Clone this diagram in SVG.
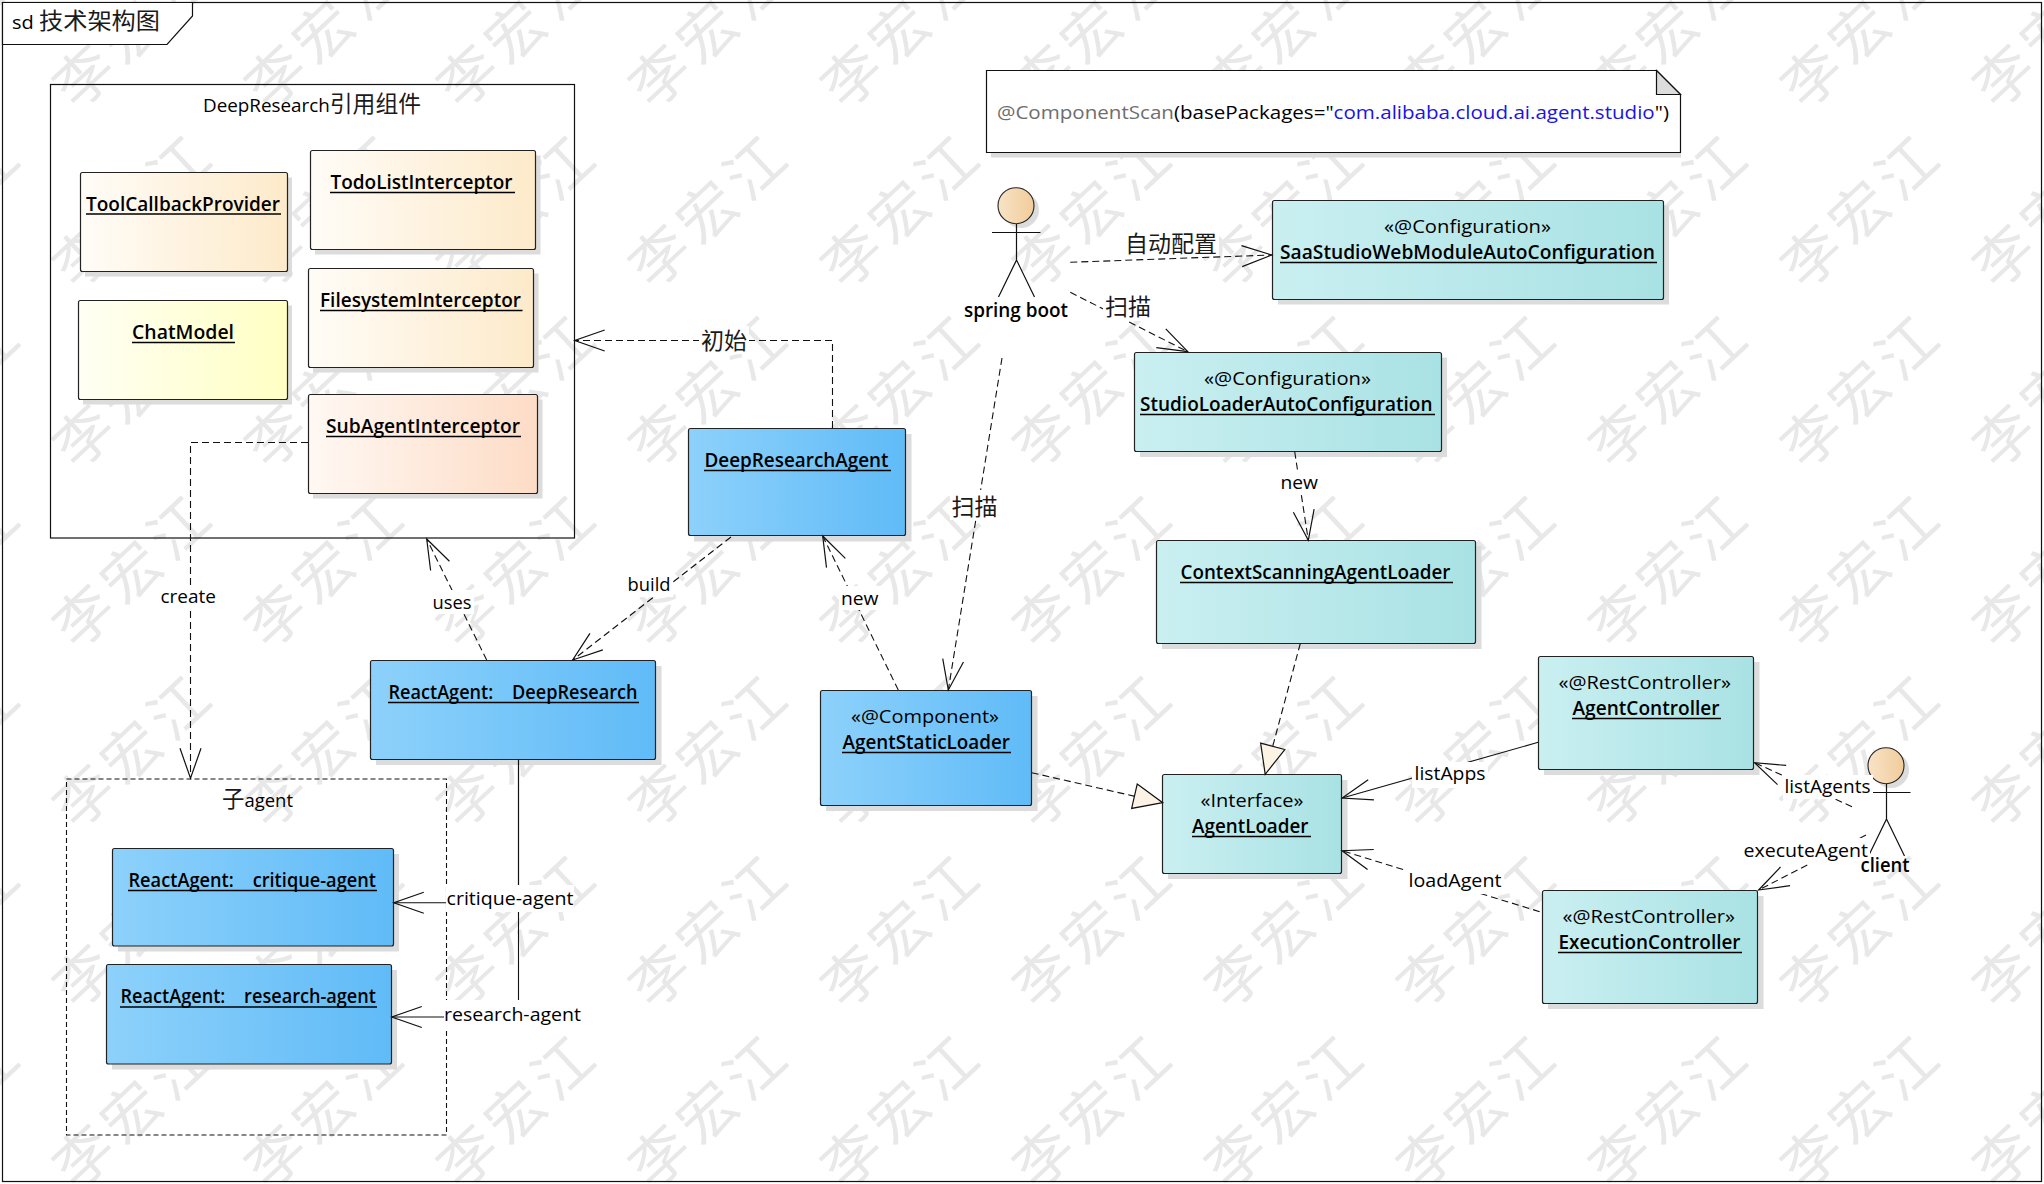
<svg xmlns="http://www.w3.org/2000/svg" width="2044" height="1184" viewBox="0 0 2044 1184">
<style>
text{font-family:"Open Sans","Noto Sans CJK SC",sans-serif;font-size:19px;fill:#000}
.nm{font-weight:600}
.cj{font-family:"Noto Sans CJK SC","Open Sans",sans-serif;font-size:23px;fill:#1a1a1a}
.r{stroke:#222;stroke-width:1.2}
.sh{fill:#dcdcdc}
.u{stroke:#000;stroke-width:1.3}
.bl{fill:url(#gBlue)}.te{fill:url(#gTeal)}.or{fill:url(#gOrange)}.ye{fill:url(#gYellow)}.pk{fill:url(#gPink)}
.c{fill:none;stroke:#111;stroke-width:1.1;marker-end:url(#open)}
.d{stroke-dasharray:7 4}
.re{marker-end:url(#tri)}
.lb{fill:#fff}
.ln{fill:none;stroke:#111;stroke-width:1.2}
.wm{font-family:"Noto Sans CJK SC",sans-serif;font-size:58px;letter-spacing:7px;fill:#e8e8e8}
</style>
<defs>
<linearGradient id="gBlue"><stop offset="0" stop-color="#8dd1fb"/><stop offset="1" stop-color="#60bbf7"/></linearGradient>
<linearGradient id="gTeal"><stop offset="0" stop-color="#caeff1"/><stop offset="1" stop-color="#a9e2e4"/></linearGradient>
<linearGradient id="gOrange"><stop offset="0" stop-color="#fffcf7"/><stop offset="1" stop-color="#fdeaca"/></linearGradient>
<linearGradient id="gYellow"><stop offset="0" stop-color="#fffff4"/><stop offset="1" stop-color="#ffffc4"/></linearGradient>
<linearGradient id="gPink"><stop offset="0" stop-color="#fff8f3"/><stop offset="1" stop-color="#fddcc6"/></linearGradient>
<linearGradient id="gHead"><stop offset="0" stop-color="#f8e3c6"/><stop offset="1" stop-color="#f1cc9b"/></linearGradient>
<marker id="open" markerUnits="userSpaceOnUse" markerWidth="64" markerHeight="44" refX="0" refY="0" orient="auto" viewBox="-32 -22 64 44"><path d="M-30,-10.5 L0,0 L-30,10.5" fill="none" stroke="#111" stroke-width="1.2"/></marker>
<marker id="tri" markerUnits="userSpaceOnUse" markerWidth="64" markerHeight="44" refX="0" refY="0" orient="auto" viewBox="-32 -22 64 44"><path d="M-29,-12.5 L0,0 L-29,12.5 Z" fill="#fdf3e5" stroke="#111" stroke-width="1.2"/></marker>
<pattern id="wmTile" patternUnits="userSpaceOnUse" x="33" y="-61" width="192" height="180"><text class="wm" x="99" y="90" text-anchor="middle" dominant-baseline="central" transform="rotate(-43 96 90)">李宏江</text></pattern>
</defs>
<rect width="2044" height="1184" fill="#fff"/>
<rect id="watermark" width="2044" height="1184" fill="url(#wmTile)"/>

<g id="frame">
<rect x="2.5" y="2.5" width="2039" height="1179" fill="none" stroke="#111" stroke-width="1.2"/>
<path d="M2.5,44.5 H167 L192.5,16 V2.5 H2.5 Z" fill="#fff" stroke="#111" stroke-width="1.2"/>
<text x="12" y="29" textLength="148" lengthAdjust="spacingAndGlyphs">sd <tspan class="cj" font-size="24">技术架构图</tspan></text>
</g>

<g id="container-deepresearch">
<rect x="50.5" y="84.5" width="524" height="453.5" fill="none" stroke="#111" stroke-width="1.2"/>
<text x="203" y="112" textLength="218" lengthAdjust="spacingAndGlyphs">DeepResearch<tspan class="cj">引用组件</tspan></text>
</g>
<g id="container-subagent">
<rect x="66.5" y="779" width="380" height="356" fill="none" stroke="#111" stroke-width="1.1" stroke-dasharray="5 3"/>
<text x="222" y="807" textLength="71" lengthAdjust="spacingAndGlyphs"><tspan class="cj" font-size="21">子</tspan>agent</text>
</g>

<g id="ToolCallbackProvider"><rect class="sh" x="85" y="177.5" width="207" height="99"/><rect class="r or" x="80.5" y="172.5" width="207" height="99" rx="2"/><text class="nm" x="86" y="211" textLength="194" lengthAdjust="spacingAndGlyphs">ToolCallbackProvider</text><line class="u" x1="86" y1="214" x2="281" y2="214"/></g>
<g id="TodoListInterceptor"><rect class="sh" x="315" y="155.5" width="225.500" height="99"/><rect class="r or" x="310.500" y="150.500" width="225" height="99" rx="2"/><text class="nm" x="330.500" y="189" textLength="182" lengthAdjust="spacingAndGlyphs">TodoListInterceptor</text><line class="u" x1="330" y1="192.500" x2="515" y2="192.500"/></g>
<g id="FilesystemInterceptor"><rect class="sh" x="313" y="273.500" width="225.500" height="99"/><rect class="r or" x="308.500" y="268.500" width="225" height="99" rx="2"/><text class="nm" x="320" y="307" textLength="201" lengthAdjust="spacingAndGlyphs">FilesystemInterceptor</text><line class="u" x1="320" y1="310.500" x2="522.500" y2="310.500"/></g>
<g id="ChatModel"><rect class="sh" x="83" y="305.500" width="209" height="99"/><rect class="r ye" x="78.500" y="300.500" width="209" height="99" rx="2"/><text class="nm" x="132" y="339" textLength="102" lengthAdjust="spacingAndGlyphs">ChatModel</text><line class="u" x1="132" y1="342.500" x2="235" y2="342.500"/></g>
<g id="SubAgentInterceptor"><rect class="sh" x="313" y="399.500" width="229.500" height="99"/><rect class="r pk" x="308.500" y="394.500" width="229" height="99" rx="2"/><text class="nm" x="326" y="433" textLength="194" lengthAdjust="spacingAndGlyphs">SubAgentInterceptor</text><line class="u" x1="326" y1="436.500" x2="521" y2="436.500"/></g>

<g id="note-componentscan"><rect class="sh" x="991" y="152" width="690" height="5.500"/><path d="M986.500,70.500 H1656.500 L1680.500,94.500 V152.500 H986.500 Z" fill="#fff" stroke="#111" stroke-width="1.2"/><path d="M1656.500,70.500 L1680.500,94.500 H1656.500 Z" fill="#dcdcdc" stroke="#111" stroke-width="1.2"/>
<text x="997" y="119" textLength="672" lengthAdjust="spacingAndGlyphs"><tspan fill="#6e6e6e">@ComponentScan</tspan>(basePackages="<tspan fill="#1a14e6">com.alibaba.cloud.ai.agent.studio</tspan>")</text></g>

<g id="actor-springboot"><ellipse class="sh" cx="1021" cy="210" rx="18" ry="18"/><ellipse cx="1016" cy="205.700" rx="18" ry="18" fill="url(#gHead)" stroke="#222" stroke-width="1.1"/><path class="ln" d="M992,232.500 H1040.500 M1016.500,224 V260 L998.500,297 M1016.500,260 L1034.500,297"/><text class="nm" x="964" y="317" textLength="104" lengthAdjust="spacingAndGlyphs">spring boot</text></g>

<g id="SaaStudioWebModuleAutoConfiguration"><rect class="sh" x="1278" y="205.500" width="391" height="99"/><rect class="r te" x="1272.500" y="200.500" width="391" height="99" rx="2"/><text x="1384" y="233" textLength="167" lengthAdjust="spacingAndGlyphs">«@Configuration»</text><text class="nm" x="1280" y="258.500" textLength="375" lengthAdjust="spacingAndGlyphs">SaaStudioWebModuleAutoConfiguration</text><line class="u" x1="1280" y1="262.500" x2="1657" y2="262.500"/></g>
<g id="StudioLoaderAutoConfiguration"><rect class="sh" x="1140" y="357.500" width="307" height="99.500"/><rect class="r te" x="1134.500" y="352.500" width="307" height="99" rx="2"/><text x="1204" y="385" textLength="167" lengthAdjust="spacingAndGlyphs">«@Configuration»</text><text class="nm" x="1140" y="410.500" textLength="292.500" lengthAdjust="spacingAndGlyphs">StudioLoaderAutoConfiguration</text><line class="u" x1="1140" y1="414.500" x2="1435" y2="414.500"/></g>
<g id="ContextScanningAgentLoader"><rect class="sh" x="1162" y="546" width="319.500" height="103"/><rect class="r te" x="1156.500" y="540.500" width="319" height="103" rx="2"/><text class="nm" x="1180.500" y="579" textLength="270" lengthAdjust="spacingAndGlyphs">ContextScanningAgentLoader</text><line class="u" x1="1180" y1="582.500" x2="1453" y2="582.500"/></g>
<g id="AgentLoader"><rect class="sh" x="1168" y="780" width="179.500" height="99"/><rect class="r te" x="1162.500" y="774.500" width="179" height="99" rx="2"/><text x="1200.500" y="807" textLength="103" lengthAdjust="spacingAndGlyphs">«Interface»</text><text class="nm" x="1192" y="832.500" textLength="116.500" lengthAdjust="spacingAndGlyphs">AgentLoader</text><line class="u" x1="1192" y1="836.500" x2="1311" y2="836.500"/></g>
<g id="AgentController"><rect class="sh" x="1544" y="662" width="215.500" height="113"/><rect class="r te" x="1538.500" y="656.500" width="215" height="113" rx="2"/><text x="1558.500" y="688.500" textLength="172.500" lengthAdjust="spacingAndGlyphs">«@RestController»</text><text class="nm" x="1572.500" y="715" textLength="147" lengthAdjust="spacingAndGlyphs">AgentController</text><line class="u" x1="1572" y1="718.500" x2="1721" y2="718.500"/></g>
<g id="ExecutionController"><rect class="sh" x="1548" y="896" width="215.500" height="113"/><rect class="r te" x="1542.500" y="890.500" width="215" height="113" rx="2"/><text x="1562.500" y="922.500" textLength="172.500" lengthAdjust="spacingAndGlyphs">«@RestController»</text><text class="nm" x="1558.500" y="949" textLength="182" lengthAdjust="spacingAndGlyphs">ExecutionController</text><line class="u" x1="1558" y1="952.500" x2="1742" y2="952.500"/></g>
<g id="actor-client"><ellipse class="sh" cx="1891" cy="770" rx="18" ry="18"/><ellipse cx="1886" cy="765.700" rx="18" ry="18" fill="url(#gHead)" stroke="#222" stroke-width="1.1"/><path class="ln" d="M1862,792.500 H1910.500 M1886.500,784 V819 L1868.500,856 M1886.500,819 L1904.500,856"/></g>

<g id="DeepResearchAgent"><rect class="sh" x="694" y="434" width="217.500" height="107.500"/><rect class="r bl" x="688.500" y="428.500" width="217" height="107" rx="2"/><text class="nm" x="704.500" y="466.500" textLength="184" lengthAdjust="spacingAndGlyphs">DeepResearchAgent</text><line class="u" x1="704" y1="470.500" x2="891" y2="470.500"/></g>
<g id="AgentStaticLoader"><rect class="sh" x="826" y="696" width="211.500" height="115"/><rect class="r bl" x="820.500" y="690.500" width="211" height="115" rx="2"/><text x="851" y="722.500" textLength="148" lengthAdjust="spacingAndGlyphs">«@Component»</text><text class="nm" x="842.500" y="748.500" textLength="167.500" lengthAdjust="spacingAndGlyphs">AgentStaticLoader</text><line class="u" x1="842" y1="752.500" x2="1011" y2="752.500"/></g>
<g id="ReactAgent-DeepResearch"><rect class="sh" x="376" y="666" width="285.500" height="99"/><rect class="r bl" x="370.500" y="660.500" width="285" height="99" rx="2"/><text class="nm" x="388.500" y="699" textLength="249" lengthAdjust="spacingAndGlyphs" xml:space="preserve">ReactAgent:    DeepResearch</text><line class="u" x1="388" y1="702.500" x2="639" y2="702.500"/></g>
<g id="ReactAgent-critique"><rect class="sh" x="118" y="854" width="281" height="97.500"/><rect class="r bl" x="112.500" y="848.500" width="281" height="97.500" rx="2"/><text class="nm" x="128.500" y="886.500" textLength="247.500" lengthAdjust="spacingAndGlyphs" xml:space="preserve">ReactAgent:    critique-agent</text><line class="u" x1="128" y1="890.500" x2="377" y2="890.500"/></g>
<g id="ReactAgent-research"><rect class="sh" x="112" y="970" width="285" height="99.500"/><rect class="r bl" x="106.500" y="964.500" width="285" height="99.500" rx="2"/><text class="nm" x="120.500" y="1003" textLength="255.500" lengthAdjust="spacingAndGlyphs" xml:space="preserve">ReactAgent:    research-agent</text><line class="u" x1="120" y1="1007" x2="377" y2="1007"/></g>

<g id="connectors">
<path class="c d" d="M832.500,428 V340.500 H574.700"/>
<path class="c d" d="M308,442.500 H190.500 V778.300"/>
<path class="c d" d="M486.700,660 L426.700,539"/>
<path class="c d" d="M731,537 L572.700,660"/>
<path class="c d" d="M898.300,690 L822.700,536"/>
<path class="c d" d="M1002,358 L948.300,690"/>
<path class="c d" d="M1070.300,262.300 L1271.800,255"/>
<path class="c d" d="M1070.300,292.300 L1187.800,351.700"/>
<path class="c d" d="M1294.700,451.700 L1308.300,540.300"/>
<path class="c d re" d="M1300.300,643.500 L1265.200,774.300"/>
<path class="c d re" d="M1031.700,772.700 L1162.700,802.700"/>
<path class="c" d="M1538.200,742.300 L1342.200,798"/>
<path class="c d" d="M1539.700,911.700 L1342,850.700"/>
<path class="c d" d="M1852,806.700 L1754.500,762.700"/>
<path class="c d" d="M1866,835 L1758.600,890"/>
<path class="c" d="M518.500,759.500 V902.800 H393.800"/>
<path class="c" d="M518.500,759.500 V1017 H391.800"/>
</g>
<g id="connector-labels">
<rect class="lb" x="699" y="326" width="50" height="28"/><text class="cj" x="701" y="349">初始</text>
<rect class="lb" x="158" y="585" width="60" height="24"/><text x="160.500" y="602.500" textLength="55.500" lengthAdjust="spacingAndGlyphs">create</text>
<rect class="lb" x="431" y="590" width="43" height="24"/><text x="432.500" y="608.500" textLength="39" lengthAdjust="spacingAndGlyphs">uses</text>
<rect class="lb" x="625" y="573" width="48" height="24"/><text x="627.500" y="590.500" textLength="43" lengthAdjust="spacingAndGlyphs">build</text>
<rect class="lb" x="839" y="586" width="42" height="24"/><text x="841" y="604.500" textLength="37.500" lengthAdjust="spacingAndGlyphs">new</text>
<rect class="lb" x="950" y="490" width="49" height="30"/><text class="cj" x="951.500" y="515">扫描</text>
<rect class="lb" x="1123" y="228" width="96" height="28"/><text class="cj" x="1125" y="252">自动配置</text>
<rect class="lb" x="1103" y="291" width="50" height="30"/><text class="cj" x="1105" y="315">扫描</text>
<rect class="lb" x="1279" y="472" width="42" height="22"/><text x="1280.500" y="489" textLength="37.500" lengthAdjust="spacingAndGlyphs">new</text>
<rect class="lb" x="1412" y="762" width="76" height="26"/><text x="1414.500" y="780" textLength="71" lengthAdjust="spacingAndGlyphs">listApps</text>
<rect class="lb" x="1406" y="868" width="98" height="26"/><text x="1408.500" y="886.500" textLength="93" lengthAdjust="spacingAndGlyphs">loadAgent</text>
<rect class="lb" x="1783" y="775" width="90" height="24"/><text x="1784.500" y="792.500" textLength="86" lengthAdjust="spacingAndGlyphs">listAgents</text>
<rect class="lb" x="1742" y="838" width="128" height="26"/><text x="1743.500" y="856.500" textLength="124.500" lengthAdjust="spacingAndGlyphs">executeAgent</text>
<text class="nm" x="1860.500" y="872" textLength="49" lengthAdjust="spacingAndGlyphs">client</text>
<rect class="lb" x="446" y="885" width="128" height="27"/><text x="446.500" y="904.500" textLength="127" lengthAdjust="spacingAndGlyphs">critique-agent</text>
<rect class="lb" x="444" y="1000" width="138" height="29"/><text x="444" y="1020.500" textLength="137" lengthAdjust="spacingAndGlyphs">research-agent</text>
</g>
</svg>
